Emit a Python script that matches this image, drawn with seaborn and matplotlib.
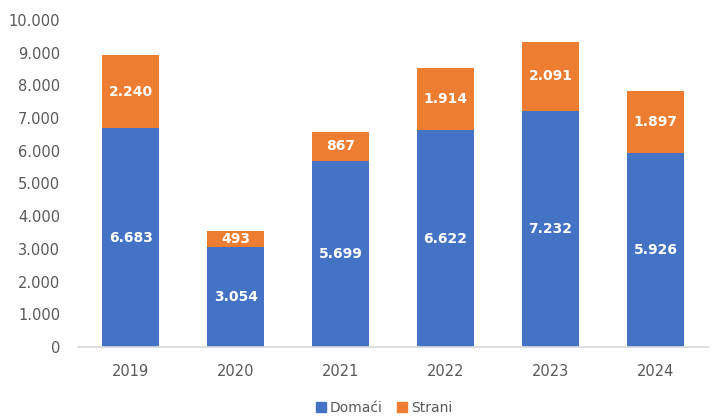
import pandas as pd
import matplotlib
matplotlib.use('Agg')
import matplotlib.pyplot as plt
from matplotlib.patches import Patch
import seaborn as sns

# ── Data ──────────────────────────────────────────────────────────────────────
years   = ["2019", "2020", "2021", "2022", "2023", "2024"]
domaci  = [6683, 3054, 5699, 6622, 7232, 5926]
strani  = [2240, 493, 867, 1914, 2091, 1897]

BLUE   = "#4472C4"
ORANGE = "#ED7D31"
GREY   = "#595959"

df = pd.DataFrame({"year": years, "Domaći": domaci, "Strani": strani})
df["total"] = df["Domaći"] + df["Strani"]

def fmt(v):
    return f"{v:,}".replace(",", ".")

sns.set_theme(style="white")
plt.rcParams['font.family'] = ['DejaVu Sans']

fig = plt.figure(figsize=(7.18, 4.17), dpi=100)
ax = fig.add_axes([0.109, 0.168, 0.877, 0.784])

# stacked: total (orange) behind, domestic (blue) in front
sns.barplot(data=df, x="year", y="total", color=ORANGE, width=0.54,
            saturation=1, linewidth=0, ax=ax)
sns.barplot(data=df, x="year", y="Domaći", color=BLUE, width=0.54,
            saturation=1, linewidth=0, ax=ax)

for i, (d, s) in enumerate(zip(domaci, strani)):
    ax.text(i, d / 2, fmt(d), ha="center", va="center", color="white",
            fontsize=10, fontweight="bold")
    ax.text(i, d + s / 2, fmt(s), ha="center", va="center", color="white",
            fontsize=10, fontweight="bold")

ax.set_ylim(0, 10000)
ax.set_yticks(range(0, 10001, 1000))
ax.set_yticklabels([fmt(v) for v in range(0, 10001, 1000)])
ax.set_xlabel("")
ax.set_ylabel("")
ax.tick_params(axis="both", length=0, colors=GREY, labelsize=10.5)
ax.tick_params(axis="x", pad=12)
ax.tick_params(axis="y", pad=13)
for side in ["top", "right", "left"]:
    ax.spines[side].set_visible(False)
ax.spines["bottom"].set_color("#D9D9D9")

handles = [Patch(color=BLUE, label="Domaći"), Patch(color=ORANGE, label="Strani")]
fig.legend(handles=handles, loc="center", bbox_to_anchor=(0.535, 0.022),
           ncol=2, frameon=False, fontsize=10, handlelength=0.7,
           handleheight=0.7, handletextpad=0.3, columnspacing=1.0,
           labelcolor=GREY)

plt.savefig("out.png", dpi=100)
plt.close()
